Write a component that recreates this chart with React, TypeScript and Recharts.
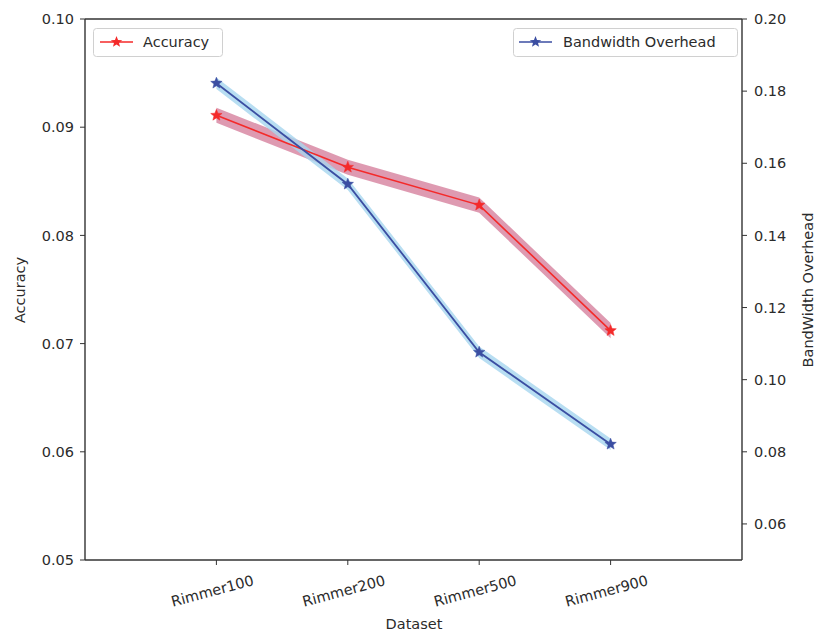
import React from 'react';
import { ComposedChart, Line, Area, XAxis, YAxis, ReferenceLine } from 'recharts';

const categories = ['Rimmer100', 'Rimmer200', 'Rimmer500', 'Rimmer900'];
const accuracy = [0.0911, 0.0863, 0.0828, 0.0712];
const accuracyErr = [0.0007, 0.0007, 0.0007, 0.0007];
const bandwidth = [0.1822, 0.1542, 0.1076, 0.0821];
const bandwidthErr = [0.0016, 0.0016, 0.0016, 0.0016];
const accTicks = [0.05, 0.06, 0.07, 0.08, 0.09, 0.1];
const bwTicks = [0.06, 0.08, 0.1, 0.12, 0.14, 0.16, 0.18, 0.2];

const data = categories.map((c, i) => ({
  idx: i,
  name: c,
  acc: accuracy[i],
  accBand: [accuracy[i] - accuracyErr[i], accuracy[i] + accuracyErr[i]],
  bw: bandwidth[i],
  bwBand: [bandwidth[i] - bandwidthErr[i], bandwidth[i] + bandwidthErr[i]],
}));

const FONT = 'DejaVu Sans, sans-serif';
const TXT = '#2b2b2b';
const AX = '#333';
const RED = '#f42a2a';
const BLUE = '#3b4ea2';

function starPoints(cx: number, cy: number, R: number, r: number) {
  const pts: string[] = [];
  for (let k = 0; k < 10; k++) {
    const rad = k % 2 === 0 ? R : r;
    const a = -Math.PI / 2 + (k * Math.PI) / 5;
    pts.push(`${cx + rad * Math.cos(a)},${cy + rad * Math.sin(a)}`);
  }
  return pts.join(' ');
}

const makeStar = (color: string) => (props: any) => {
  const { cx, cy, index } = props;
  if (cx == null || cy == null) return <g key={`s${index}`} />;
  return <polygon key={`s${index}`} points={starPoints(cx, cy, 6, 2.6)} fill={color} stroke={color} strokeWidth={0.5} />;
};

const XTick = (props: any) => {
  const { x, y, payload } = props;
  const cx = x - 4;
  const cy = y + 24;
  return (
    <text x={cx} y={cy} transform={`rotate(-15, ${cx}, ${cy})`} textAnchor="middle" dominantBaseline="central"
      fontFamily={FONT} fontSize={14.5} fill={TXT}>
      {categories[payload.value]}
    </text>
  );
};

export default function App() {
  return (
    <div style={{ position: 'absolute', left: 0, top: 0, width: 815, height: 635, background: '#fff' }}>
      <ComposedChart width={815} height={635} data={data} margin={{ top: 19, right: 0, bottom: 0, left: 0 }}>
        <XAxis xAxisId="main" dataKey="idx" type="number" domain={[-1, 4]} ticks={[0, 1, 2, 3]} height={75}
          tick={<XTick />} tickSize={5} tickLine={{ stroke: AX }} axisLine={{ stroke: AX, strokeWidth: 1.4 }} interval={0} allowDataOverflow />
        <YAxis yAxisId="left" orientation="left" width={85} domain={[0.05, 0.1]} ticks={accTicks} type="number"
          tickFormatter={(v: number) => v.toFixed(2)} tickSize={5} tickMargin={6} tickLine={{ stroke: AX }}
          axisLine={{ stroke: AX, strokeWidth: 1.4 }} tick={{ fontFamily: FONT, fontSize: 14.5, fill: TXT }} allowDataOverflow interval={0} />
        <YAxis yAxisId="right" orientation="right" width={73} domain={[0.05, 0.2]} ticks={bwTicks} type="number"
          tickFormatter={(v: number) => v.toFixed(2)} tickSize={5} tickMargin={7} tickLine={{ stroke: AX }}
          axisLine={{ stroke: AX, strokeWidth: 1.4 }} tick={{ fontFamily: FONT, fontSize: 14.5, fill: TXT }} allowDataOverflow interval={0} />
        <ReferenceLine xAxisId="main" yAxisId="left" y={0.1} stroke={AX} strokeWidth={1.4} ifOverflow="visible" />
        <Area xAxisId="main" yAxisId="left" type="linear" dataKey="accBand" stroke="none" fill="#dc95ad" fillOpacity={0.95} isAnimationActive={false} />
        <Line xAxisId="main" yAxisId="left" type="linear" dataKey="acc" stroke={RED} strokeWidth={1.6} dot={makeStar(RED)} activeDot={false} isAnimationActive={false} />
        <Area xAxisId="main" yAxisId="right" type="linear" dataKey="bwBand" stroke="none" fill="#a6d6ef" fillOpacity={0.8} isAnimationActive={false} />
        <Line xAxisId="main" yAxisId="right" type="linear" dataKey="bw" stroke={BLUE} strokeWidth={1.8} dot={makeStar(BLUE)} activeDot={false} isAnimationActive={false} />
      </ComposedChart>
      <svg width={815} height={635} style={{ position: 'absolute', left: 0, top: 0, pointerEvents: 'none' }}>
        <text x={20} y={290} transform="rotate(-90, 20, 290)" textAnchor="middle" dominantBaseline="central" fontFamily={FONT} fontSize={14.5} fill={TXT}>Accuracy</text>
        <text x={808} y={290} transform="rotate(-90, 808, 290)" textAnchor="middle" dominantBaseline="central" fontFamily={FONT} fontSize={14.5} fill={TXT}>BandWidth Overhead</text>
        <text x={414} y={624} textAnchor="middle" dominantBaseline="central" fontFamily={FONT} fontSize={14.5} fill={TXT}>Dataset</text>
        <rect x={93.5} y={28.5} width={129} height={28} rx={3} fill="#fff" fillOpacity={0.85} stroke="#d0d0d0" />
        <line x1={100} y1={42} x2={133} y2={42} stroke={RED} strokeWidth={1.6} />
        <polygon points={starPoints(116.5, 42, 6, 2.6)} fill={RED} />
        <text x={143} y={42} dominantBaseline="central" fontFamily={FONT} fontSize={14.5} fill={TXT}>Accuracy</text>
        <rect x={513.5} y={28.5} width={224} height={28} rx={3} fill="#fff" fillOpacity={0.85} stroke="#d0d0d0" />
        <line x1={519} y1={42} x2={552} y2={42} stroke={BLUE} strokeWidth={1.6} />
        <polygon points={starPoints(535.5, 42, 6, 2.6)} fill={BLUE} />
        <text x={563} y={42} dominantBaseline="central" fontFamily={FONT} fontSize={14.5} fill={TXT}>Bandwidth Overhead</text>
      </svg>
    </div>
  );
}
